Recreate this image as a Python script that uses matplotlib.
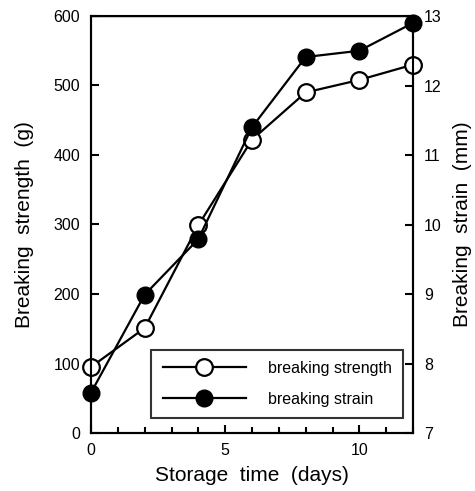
import matplotlib.pyplot as plt
from matplotlib.ticker import MultipleLocator

plt.rcParams['font.family'] = ['Liberation Sans', 'DejaVu Sans']

days = [0, 2, 4, 6, 8, 10, 12]
strength_g = [95, 151, 299, 422, 490, 508, 530]
strain_mm = [7.58, 8.99, 9.79, 11.40, 12.41, 12.50, 12.90]

fig = plt.figure(figsize=(4.75, 4.91), dpi=100)
ax = fig.add_axes([91 / 475, 1 - 433 / 491, 322 / 475, 417 / 491])
ax2 = ax.twinx()

ax.plot(days, strength_g, color='black', lw=1.6, marker='o', ms=12,
        mfc='white', mec='black', mew=1.6, label='breaking strength',
        zorder=3, clip_on=False)
ax2.plot(days, strain_mm, color='black', lw=1.6, marker='o', ms=12,
         mfc='black', mec='black', label='breaking strain',
         zorder=3, clip_on=False)

ax.set_xlim(0, 12)
ax.set_ylim(0, 600)
ax2.set_ylim(7, 13)
ax.set_xticks([0, 5, 10])
ax.xaxis.set_minor_locator(MultipleLocator(1))
ax.set_yticks(range(0, 601, 100))
ax2.set_yticks(range(7, 14))

for a in (ax, ax2):
    for s in a.spines.values():
        s.set_linewidth(1.5)
    a.tick_params(direction='in', length=6, width=1.5, labelsize=11.5)
    a.tick_params(which='minor', direction='in', length=4, width=1.5)
ax.spines['top'].set_linewidth(1.0)
ax.tick_params(axis='x', pad=7)
ax.tick_params(axis='y', pad=8)
ax2.tick_params(axis='y', pad=8)

ax.set_xlabel('Storage  time  (days)', fontsize=15, labelpad=6)
ax.set_ylabel('Breaking  strength  (g)', fontsize=15, labelpad=14)
ax2.set_ylabel('Breaking  strain  (mm)', fontsize=15, labelpad=8)

h1, l1 = ax.get_legend_handles_labels()
h2, l2 = ax2.get_legend_handles_labels()
leg = ax2.legend(h1 + h2, l1 + l2, loc='lower right',
                 bbox_to_anchor=(403 / 475, 1 - 418 / 491, 0, 0),
                 bbox_transform=fig.transFigure, fontsize=11.5,
                 frameon=True, fancybox=False, handlelength=5.2,
                 handletextpad=1.4, borderpad=0.7, labelspacing=1.0,
                 borderaxespad=0)
leg.get_frame().set_edgecolor('black')
leg.get_frame().set_linewidth(1.5)

fig.savefig('out.png', dpi=100)
